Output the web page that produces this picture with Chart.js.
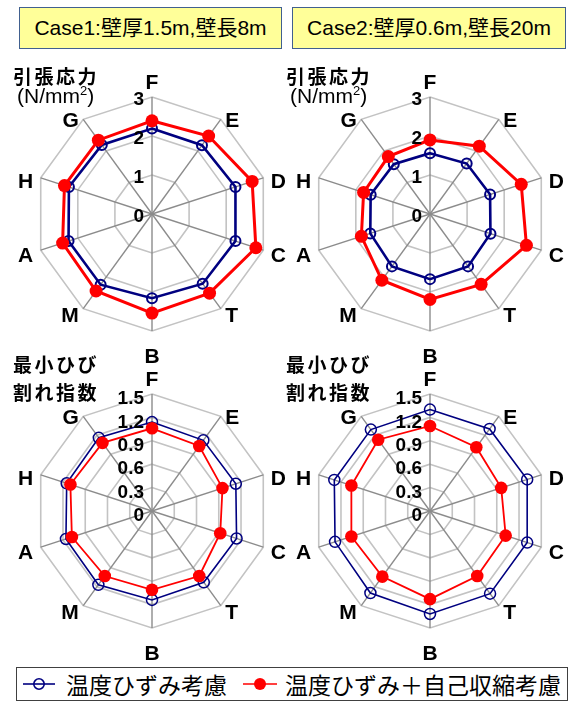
<!DOCTYPE html>
<html lang="ja">
<head>
<meta charset="utf-8">
<title>引張応力・最小ひび割れ指数</title>
<script src="https://cdn.jsdelivr.net/npm/chart.js@4.4.1/dist/chart.umd.min.js"></script>
<style>
  html, body { margin: 0; padding: 0; background: #fff; }
  body { width: 573px; height: 702px; position: relative; overflow: hidden;
         font-family: "Liberation Sans", "Noto Sans CJK JP", sans-serif; color: #000; }
  .case { position: absolute; top: 7px; height: 42px; box-sizing: border-box;
          border: 1.5px solid #41608f; background: #ffff99; font-size: 21px;
          line-height: 39px; text-align: center; white-space: nowrap; }
  .panel { position: absolute; }
  .sub { position: absolute; font-family: "Noto Sans CJK JP", sans-serif; font-weight: bold;
         font-size: 19px; letter-spacing: 2.5px; line-height: 1; white-space: nowrap; }
  .unit { position: absolute; font-size: 21px; line-height: 1; white-space: nowrap; }
  .unit sup { font-size: 13px; vertical-align: 8px; line-height: 0; }
  .legend { position: absolute; left: 16px; top: 667px; width: 552px; height: 34px;
            box-sizing: border-box; border: 1px solid #404040; background: #fff; }
  .legend svg { position: absolute; top: 0; }
  .legend span { position: absolute; top: 0; line-height: 32px; font-size: 23px;
                 font-family: "Noto Sans CJK JP", sans-serif; white-space: nowrap; }
</style>
</head>
<body>

<div class="case" style="left:19px;width:263px;">Case1:壁厚1.5m,壁長8m</div>
<div class="case" style="left:292px;width:274px;">Case2:壁厚0.6m,壁長20m</div>

<canvas id="c1" class="panel" width="286" height="308" style="left:0;top:60px;"></canvas>
<canvas id="c2" class="panel" width="287" height="308" style="left:286px;top:60px;"></canvas>
<canvas id="c3" class="panel" width="286" height="297" style="left:0;top:368px;"></canvas>
<canvas id="c4" class="panel" width="287" height="297" style="left:286px;top:368px;"></canvas>

<div class="sub" style="left:13px;top:66px;">引張応力</div>
<div class="unit" style="left:17px;top:85px;">(N/mm<sup>2</sup>)</div>
<div class="sub" style="left:286px;top:66px;">引張応力</div>
<div class="unit" style="left:290px;top:85px;">(N/mm<sup>2</sup>)</div>
<div class="sub" style="left:13px;top:354px;">最小ひび</div>
<div class="sub" style="left:13px;top:382px;">割れ指数</div>
<div class="sub" style="left:286px;top:354px;">最小ひび</div>
<div class="sub" style="left:286px;top:382px;">割れ指数</div>

<div class="legend">
  <svg style="left:5px" width="34" height="32">
    <line x1="1" y1="16" x2="33" y2="16" stroke="#000080" stroke-width="1.6"/>
    <circle cx="17" cy="16" r="5.2" fill="none" stroke="#000080" stroke-width="1.6"/>
  </svg>
  <span style="left:49px">温度ひずみ考慮</span>
  <svg style="left:225px" width="36" height="32">
    <line x1="1" y1="16" x2="35" y2="16" stroke="#ff0000" stroke-width="1.6"/>
    <circle cx="18" cy="16" r="6" fill="#ff0000"/>
  </svg>
  <span style="left:268px">温度ひずみ＋自己収縮考慮</span>
</div>

<script>
// Spokes of every radar, clockwise from the top
const CATEGORIES = ['F', 'E', 'D', 'C', 'T', 'B', 'M', 'A', 'H', 'G'];
const SERIES_NAMES = ['温度ひずみ考慮', '温度ひずみ＋自己収縮考慮'];

// Tensile stress (N/mm2)
const STRESS_CASE1_THERMAL   = [2.19, 2.18, 2.25, 2.25, 2.21, 2.16, 2.24, 2.25, 2.24, 2.19];
const STRESS_CASE1_AUTOGEN   = [2.39, 2.47, 2.70, 2.80, 2.51, 2.54, 2.44, 2.41, 2.36, 2.34];
const STRESS_CASE2_THERMAL   = [1.56, 1.60, 1.62, 1.63, 1.66, 1.67, 1.66, 1.61, 1.60, 1.58];
const STRESS_CASE2_AUTOGEN   = [1.90, 2.15, 2.46, 2.60, 2.23, 2.19, 2.10, 1.85, 1.79, 1.82];

// Minimum cracking index
const CRACK_CASE1_THERMAL    = [1.14, 1.12, 1.13, 1.14, 1.13, 1.14, 1.17, 1.16, 1.15, 1.16];
const CRACK_CASE1_AUTOGEN    = [1.06, 1.03, 0.95, 0.92, 1.03, 1.01, 1.03, 1.08, 1.10, 1.08];
const CRACK_CASE2_THERMAL    = [1.30, 1.30, 1.31, 1.31, 1.31, 1.32, 1.30, 1.28, 1.29, 1.29];
const CRACK_CASE2_AUTOGEN    = [1.09, 1.01, 0.96, 1.02, 1.03, 1.13, 1.04, 1.06, 1.06, 1.13];

// Ring labels
const STRESS_TICKS = ['0', '1', '2', '3'];
const CRACK_TICKS  = ['0', '0.3', '0.6', '0.9', '1.2', '1.5'];

Chart.defaults.font.family = '"Liberation Sans", "Noto Sans CJK JP", sans-serif';

// Draws the ring values beside the vertical spoke and the spoke names outside the outer ring
const radarText = {
  id: 'radarText',
  afterDatasetsDraw(chart, args, o) {
    const s = chart.scales.r;
    const ctx = chart.ctx;
    const R = s.drawingArea;
    ctx.save();
    ctx.fillStyle = '#000';
    ctx.textBaseline = 'middle';

    ctx.font = 'bold 19px "Liberation Sans", sans-serif';
    ctx.textAlign = 'right';
    o.ticks.forEach(t => {
      const y = s.yCenter - s.getDistanceFromCenterForValue(parseFloat(t));
      ctx.fillText(t, s.xCenter - 8, y + o.tickShift);
    });

    ctx.font = 'bold 21px "Liberation Sans", sans-serif';
    s._pointLabels.forEach((lab, i) => {
      const p = s.getPointPosition(i, R);
      const a = s.getIndexAngle(i);
      const sn = Math.sin(a), cs = Math.cos(a);
      let x = p.x, y = p.y;
      if (Math.abs(sn) < 0.1) {
        ctx.textAlign = 'center';
        y += cs > 0 ? -14 : 26;
      } else {
        ctx.textAlign = sn > 0 ? 'left' : 'right';
        const gap = Math.abs(sn) > 0.9 ? 7.5 : 4.5;
        x += sn > 0 ? gap : -gap;
        y += 5 - 3.5 * cs;
      }
      ctx.fillText(lab, x, y);
    });
    ctx.restore();
  }
};

function makeRadar(id, thermal, autogen, ticks, step, st) {
  const max = parseFloat(ticks[ticks.length - 1]);
  return new Chart(document.getElementById(id), {
    type: 'radar',
    data: {
      labels: CATEGORIES,
      datasets: [
        {
          label: SERIES_NAMES[0], data: thermal, order: 1, fill: false,
          borderColor: '#000080', backgroundColor: 'rgba(0,0,0,0)', borderWidth: st.blueW,
          pointRadius: st.blueR, pointBorderWidth: st.blueB,
          pointBorderColor: '#000080', pointBackgroundColor: 'rgba(0,0,0,0)'
        },
        {
          label: SERIES_NAMES[1], data: autogen, order: 0, fill: false,
          borderColor: '#ff0000', backgroundColor: '#ff0000', borderWidth: st.redW,
          pointRadius: st.redR, pointBorderWidth: 0,
          pointBorderColor: '#ff0000', pointBackgroundColor: '#ff0000'
        }
      ]
    },
    options: {
      responsive: false,
      animation: false,
      events: [],
      layout: { padding: st.pad },
      elements: { line: { tension: 0 } },
      plugins: {
        legend: { display: false },
        tooltip: { enabled: false },
        radarText: { ticks: ticks, tickShift: st.tickShift }
      },
      scales: {
        r: {
          min: 0, max: max,
          ticks: { display: false, stepSize: step },
          pointLabels: { display: false },
          grid: { color: '#c3c3c3', lineWidth: 1.6 },
          angleLines: { color: '#8c8c8c', lineWidth: 1.4 }
        }
      }
    },
    plugins: [radarText]
  });
}

const TOP = { blueW: 2.6, redW: 3, blueR: 5, blueB: 2, redR: 6.5, tickShift: 3 };
const BOTTOM = { blueW: 1.6, redW: 1.8, blueR: 5.5, blueB: 1.5, redR: 6.3, tickShift: 5 };

makeRadar('c1', STRESS_CASE1_THERMAL, STRESS_CASE1_AUTOGEN, STRESS_TICKS, 1,
  Object.assign({ pad: { left: 35, right: 17, top: 37, bottom: 37 } }, TOP));
makeRadar('c2', STRESS_CASE2_THERMAL, STRESS_CASE2_AUTOGEN, STRESS_TICKS, 1,
  Object.assign({ pad: { left: 27, right: 26, top: 37, bottom: 37 } }, TOP));
makeRadar('c3', CRACK_CASE1_THERMAL, CRACK_CASE1_AUTOGEN, CRACK_TICKS, 0.3,
  Object.assign({ pad: { left: 35, right: 17, top: 26, bottom: 37 } }, BOTTOM));
makeRadar('c4', CRACK_CASE2_THERMAL, CRACK_CASE2_AUTOGEN, CRACK_TICKS, 0.3,
  Object.assign({ pad: { left: 27, right: 26, top: 26, bottom: 37 } }, BOTTOM));
</script>
</body>
</html>
